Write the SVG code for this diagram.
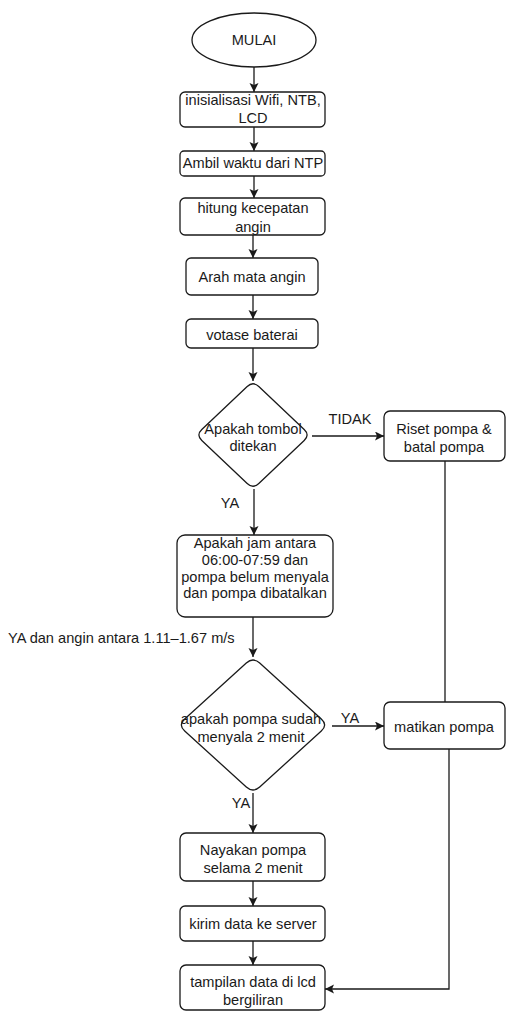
<svg xmlns="http://www.w3.org/2000/svg" width="506" height="1012" viewBox="0 0 506 1012">
<style>
.n{fill:#fff;stroke:#1a1a1a;stroke-width:1.3}
.t{font-family:"Liberation Sans",Arial,sans-serif;font-size:14.6px;fill:#1a1a1a;text-anchor:middle}
.l{font-family:"Liberation Sans",Arial,sans-serif;font-size:14.6px;fill:#1a1a1a}
.c{fill:none;stroke:#1a1a1a;stroke-width:1.3}
</style>
<defs>
<marker id="ar" markerUnits="userSpaceOnUse" markerWidth="10" markerHeight="10" refX="9" refY="4.5" orient="auto">
<path d="M0,0 L9,4.5 L0,9 L2,4.5 Z" fill="#1a1a1a"/>
</marker>
</defs>
<rect width="506" height="1012" fill="#fff"/>
<g id="connectors">
<line class="c" x1="254" y1="67" x2="254" y2="92" marker-end="url(#ar)"/>
<line class="c" x1="254" y1="127" x2="254" y2="151" marker-end="url(#ar)"/>
<line class="c" x1="254" y1="176" x2="254" y2="198" marker-end="url(#ar)"/>
<line class="c" x1="253" y1="235" x2="253" y2="258" marker-end="url(#ar)"/>
<line class="c" x1="253" y1="295" x2="253" y2="319" marker-end="url(#ar)"/>
<line class="c" x1="253" y1="348" x2="253" y2="381" marker-end="url(#ar)"/>
<line class="c" x1="312" y1="436" x2="384" y2="436" marker-end="url(#ar)"/>
<text class="t" x="350" y="424">TIDAK</text>
<line class="c" x1="445" y1="461" x2="445" y2="702"/>
<line class="c" x1="254" y1="489" x2="254" y2="535" marker-end="url(#ar)"/>
<text class="t" x="230" y="508">YA</text>
<line class="c" x1="253" y1="617" x2="253" y2="657" marker-end="url(#ar)"/>
<text class="l" x="8" y="643">YA dan angin antara 1.11–1.67 m/s</text>
<line class="c" x1="332" y1="726" x2="384" y2="726" marker-end="url(#ar)"/>
<text class="t" x="350" y="723">YA</text>
<line class="c" x1="253" y1="793" x2="253" y2="833" marker-end="url(#ar)"/>
<text class="t" x="241" y="808">YA</text>
<line class="c" x1="253" y1="881" x2="253" y2="906" marker-end="url(#ar)"/>
<line class="c" x1="253" y1="941" x2="253" y2="965" marker-end="url(#ar)"/>
<polyline class="c" points="449,749 449,989 325,989" marker-end="url(#ar)"/>
</g>
<g id="mulai">
<ellipse class="n" cx="254" cy="40" rx="62" ry="27"/>
<text class="t" x="254" y="45">MULAI</text>
</g>
<g id="init">
<rect class="n" x="180" y="92" width="145" height="35" rx="5"/>
<text class="t" x="253" y="105">inisialisasi Wifi, NTB,</text>
<text class="t" x="253" y="123">LCD</text>
</g>
<g id="ntp">
<rect class="n" x="180" y="151" width="145" height="25" rx="4"/>
<text class="t" x="253" y="168">Ambil waktu dari NTP</text>
</g>
<g id="kecepatan">
<rect class="n" x="180" y="198" width="145" height="37" rx="5"/>
<text class="t" x="253" y="213">hitung kecepatan</text>
<text class="t" x="253" y="232">angin</text>
</g>
<g id="arah">
<rect class="n" x="186" y="258" width="132" height="37" rx="5"/>
<text class="t" x="252" y="282">Arah mata angin</text>
</g>
<g id="baterai">
<rect class="n" x="186" y="319" width="132" height="29" rx="5"/>
<text class="t" x="252" y="340">votase baterai</text>
</g>
<g id="tombol">
<path class="n" d="M247.2,386.5 Q253,381 258.8,386.5 L304.2,429.5 Q310,435 304.2,440.5 L258.8,483.5 Q253,489 247.2,483.5 L201.8,440.5 Q196,435 201.8,429.5 Z"/>
<text class="t" x="253" y="434">Apakah tombol</text>
<text class="t" x="253" y="451">ditekan</text>
</g>
<g id="riset">
<rect class="n" x="384" y="411" width="121" height="50" rx="6"/>
<text class="t" x="444" y="434">Riset pompa &amp;</text>
<text class="t" x="444" y="452">batal pompa</text>
</g>
<g id="jam">
<rect class="n" x="177" y="535" width="156" height="82" rx="8"/>
<text class="t" x="255" y="548">Apakah jam antara</text>
<text class="t" x="255" y="565">06:00-07:59 dan</text>
<text class="t" x="255" y="582">pompa belum menyala</text>
<text class="t" x="255" y="598">dan pompa dibatalkan</text>
</g>
<g id="duamenit">
<path class="n" d="M246.3,663 Q253,657 259.7,663 L321.3,719 Q328,725 321.3,731 L259.7,787 Q253,793 246.3,787 L184.7,731 Q178,725 184.7,719 Z"/>
<text class="t" x="251" y="724">apakah pompa sudah</text>
<text class="t" x="251" y="742">menyala 2 menit</text>
</g>
<g id="matikan">
<rect class="n" x="384" y="702" width="121" height="47" rx="6"/>
<text class="t" x="444" y="732">matikan pompa</text>
</g>
<g id="nyalakan">
<rect class="n" x="180" y="833" width="145" height="48" rx="6"/>
<text class="t" x="253" y="855">Nayakan pompa</text>
<text class="t" x="253" y="873">selama 2 menit</text>
</g>
<g id="kirim">
<rect class="n" x="180" y="906" width="145" height="35" rx="5"/>
<text class="t" x="253" y="929">kirim data ke server</text>
</g>
<g id="tampilan">
<rect class="n" x="180" y="965" width="145" height="45" rx="6"/>
<text class="t" x="253" y="987">tampilan data di lcd</text>
<text class="t" x="253" y="1005">bergiliran</text>
</g>
</svg>
